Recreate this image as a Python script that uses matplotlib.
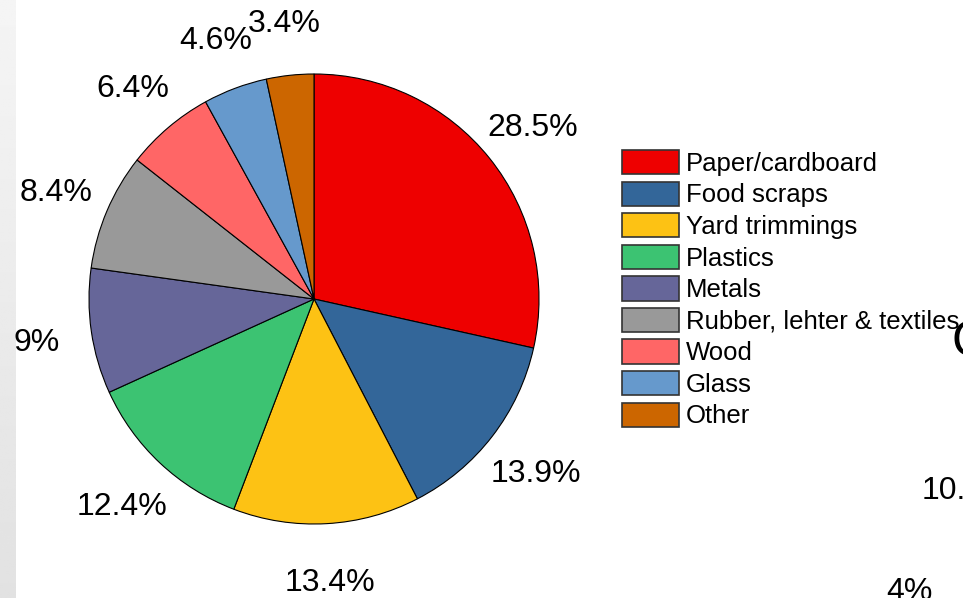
import numpy as np
import matplotlib
matplotlib.use('Agg')
import matplotlib.pyplot as plt
import matplotlib.transforms as mtransforms
from matplotlib.patches import Patch

plt.rcParams['font.family'] = ['Liberation Sans', 'DejaVu Sans']

# 데이터
categories = ['Paper/cardboard', 'Food scraps', 'Yard trimmings', 'Plastics', 'Metals',
              'Rubber, lehter & textiles', 'Wood', 'Glass', 'Other']
shares = [28.5, 13.9, 13.4, 12.4, 9, 8.4, 6.4, 4.6, 3.4]
share_labels = ['28.5%', '13.9%', '13.4%', '12.4%', '9%', '8.4%', '6.4%', '4.6%', '3.4%']
colors = ['#ee0000', '#336699', '#fdc214', '#3cc372', '#666699',
          '#999999', '#ff6666', '#6699cc', '#cc6600']

W, H = 963, 598
fig = plt.figure(figsize=(W / 100, H / 100), dpi=100)

# 왼쪽 회색 그라데이션 띠
bg = fig.add_axes([0, 0, 16 / W, 1])
grad = np.linspace(0.96, 0.885, 256).reshape(-1, 1)
bg.imshow(grad, aspect='auto', cmap='gray', vmin=0, vmax=1, extent=[0, 1, 0, 1])
bg.axis('off')

# 파이 차트
cx, cy, r = 314, 299, 225
ax = fig.add_axes([(cx - r) / W, (H - cy - r) / H, 2 * r / W, 2 * r / H])
wedges, texts = ax.pie(shares, colors=colors, labels=share_labels, startangle=90,
                       counterclock=False, labeldistance=1.245, radius=1,
                       wedgeprops=dict(edgecolor='black', linewidth=0.8),
                       textprops=dict(fontsize=23, color='black'))
shift = mtransforms.ScaledTranslation(0, -4 / 100, fig.dpi_scale_trans)
for t in texts:
    t.set_horizontalalignment('center')
    t.set_verticalalignment('center')
    t.set_transform(t.get_transform() + shift)
ax.set_xlim(-1, 1)
ax.set_ylim(-1, 1)
ax.set_aspect('equal')
ax.axis('off')

# 범례
handles = [Patch(facecolor=c, edgecolor='#333333', linewidth=1.2, label=l)
           for c, l in zip(colors, categories)]
fig.legend(handles=handles, loc='upper left', bbox_to_anchor=(622 / W, 1 - 150 / H),
           frameon=False, fontsize=18.5, handlelength=2.2, handleheight=1.08,
           handletextpad=0.3, labelspacing=0.22, borderpad=0, borderaxespad=0)

# 오른쪽 가장자리에 잘린 다른 차트 조각
fig.text(951 / W, 1 - 343 / H, 'C', fontsize=36, va='center', ha='left')
fig.text(922 / W, 1 - 491 / H, '10.', fontsize=23, va='center', ha='left')
fig.text(886 / W, 1 - 592 / H, '4%', fontsize=23, va='center', ha='left')

fig.savefig('out.png', dpi=100)
